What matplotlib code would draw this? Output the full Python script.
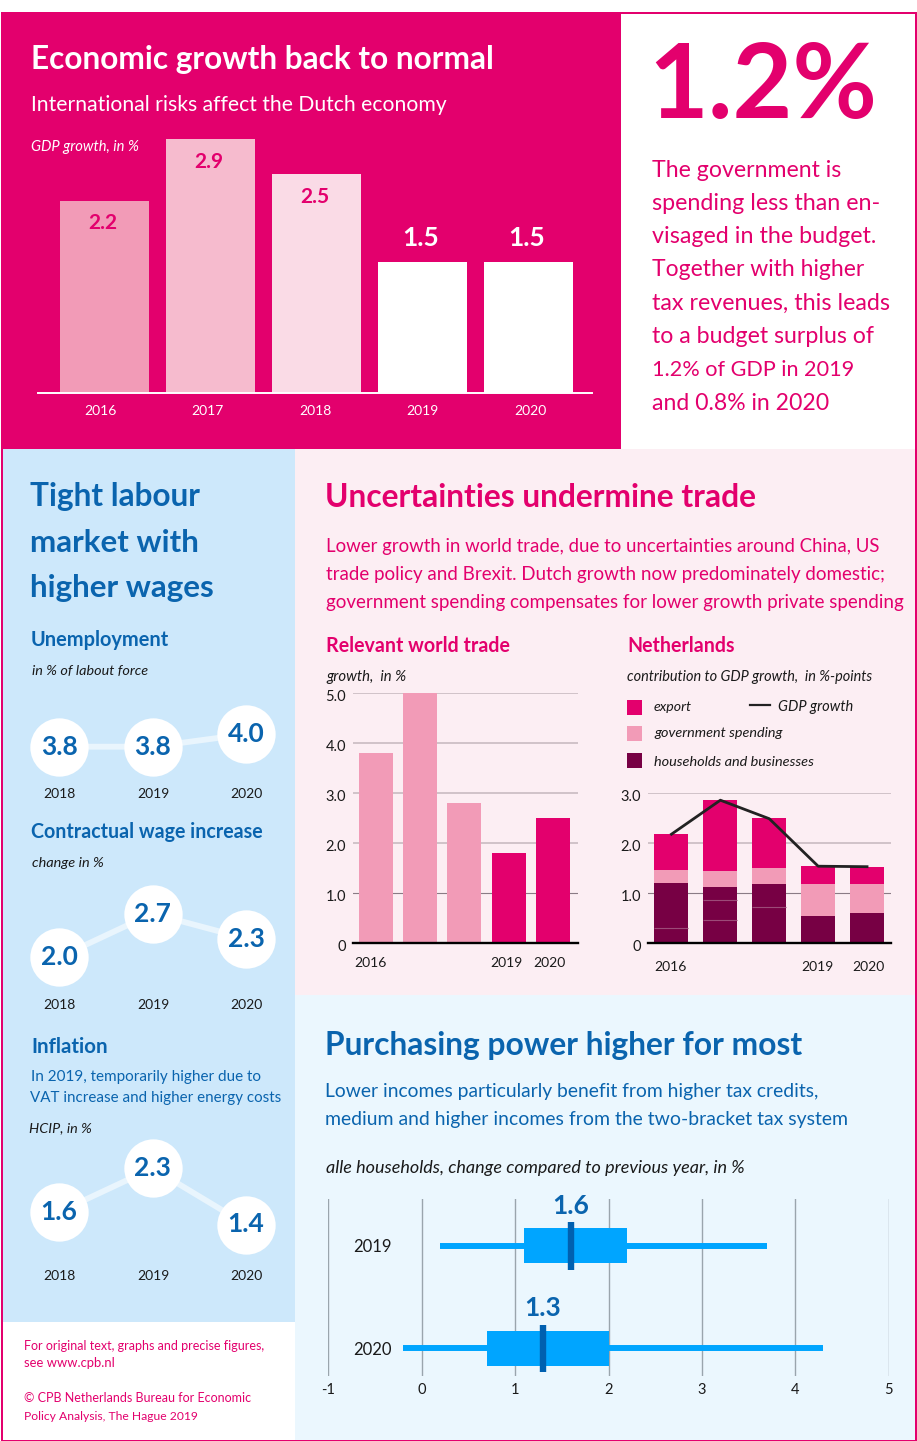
#!/usr/bin/env python3

import matplotlib

matplotlib.use("Agg")

import matplotlib.pyplot as plt
from matplotlib.patches import Rectangle
from matplotlib.transforms import ScaledTranslation


WIDTH = 917
HEIGHT = 1441

MAGENTA = "#E3006D"
PINK_1 = "#F29BB7"
PINK_2 = "#F6BBCE"
PINK_3 = "#FADBE6"
WINE = "#770044"
WINE_LINE = "#9C4A78"
PALE_PINK = "#FCEEF3"
LIGHT_BLUE = "#CDE8FB"
PALE_BLUE = "#EBF7FE"
BLUE = "#0A64AE"
BRIGHT_BLUE = "#00A5FF"
DARK_BLUE = "#0060B0"
LINK_LINE = "#E9F5FD"
GRID = "#C4B6BD"
GRID_DARK = "#8A7B85"
INK = "#1A1A1A"

# GDP growth, top left
GDP_YEARS = ["2016", "2017", "2018", "2019", "2020"]
GDP_VALUES = [2.2, 2.9, 2.5, 1.5, 1.5]

# Relevant world trade
TRADE_VALUES = [3.8, 5.0, 2.8, 1.8, 2.5]
TRADE_TICKS = [0, 1, 2, 3, 4, 5]
TRADE_TICK_LABELS = ["0", "1.0", "2.0", "3.0", "4.0", "5.0"]

# Netherlands, contribution to GDP growth
NL_HOUSEHOLDS = [1.19, 1.11, 1.18, 0.54, 0.60]
NL_GOVERNMENT = [0.26, 0.32, 0.31, 0.63, 0.57]
NL_EXPORT = [0.73, 1.42, 1.00, 0.36, 0.34]
NL_GROWTH = [2.17, 2.85, 2.48, 1.53, 1.52]
NL_SPLIT_BARS = [0, 1, 1, 2]
NL_SPLIT_VALUES = [0.29, 0.85, 0.45, 0.71]
NL_TICKS = [0, 1, 2, 3]
NL_TICK_LABELS = ["0", "1.0", "2.0", "3.0"]

# Left column dot lines
DOT_YEARS = ["2018", "2019", "2020"]
UNEMPLOYMENT = [3.8, 3.8, 4.0]
WAGES = [2.0, 2.7, 2.3]
INFLATION = [1.6, 2.3, 1.4]

# Purchasing power
POWER_YEARS = ["2019", "2020"]
POWER_LOW = [0.2, -0.2]
POWER_Q1 = [1.1, 0.7]
POWER_MEDIAN = [1.6, 1.3]
POWER_Q3 = [2.2, 2.0]
POWER_HIGH = [3.7, 4.3]
POWER_TICKS = [-1, 0, 1, 2, 3, 4, 5]


plt.rcParams["font.family"] = ["Lato", "DejaVu Sans"]
plt.rcParams["text.color"] = INK
plt.rcParams["xtick.labelcolor"] = INK
plt.rcParams["ytick.labelcolor"] = INK

figure = plt.figure(figsize=(WIDTH / 100, HEIGHT / 100), dpi=100)
figure.patch.set_facecolor("white")

page = figure.add_axes([0, 0, 1, 1])
page.set_xlim(0, WIDTH)
page.set_ylim(HEIGHT, 0)
page.axis("off")


def pixel_axes(left, top, right, bottom):
    """
    Transparent axes placed with reference-image pixel coordinates.
    """
    axis = figure.add_axes(
        [
            left / WIDTH,
            1 - bottom / HEIGHT,
            (right - left) / WIDTH,
            (bottom - top) / HEIGHT,
        ]
    )
    axis.patch.set_alpha(0)
    for spine in axis.spines.values():
        spine.set_visible(False)
    return axis


def panel(left, top, right, bottom, colour):
    page.add_patch(
        Rectangle(
            (left, top),
            right - left,
            bottom - top,
            facecolor=colour,
            edgecolor="none",
        )
    )


def put(x, y, text, width=None, size=12, colour=INK, **kwargs):
    """
    Write text on the page at a baseline, optionally sized to a pixel width.
    """
    kwargs.setdefault("va", "baseline")
    item = page.text(x, y, text, fontsize=size, color=colour, **kwargs)
    if width is not None:
        measured = item.get_window_extent(figure.canvas.get_renderer()).width
        item.set_fontsize(size * width / measured)
    return item


def dot_line(values, anchor_px, top, bottom):
    """
    Line of circles with the value inside; anchor_px is where values[0] sits.
    """
    scale = 62.5
    axis = pixel_axes(30, top, 275, bottom)
    axis.set_xlim(-0.31, 2.31)
    axis.set_ylim(
        values[0] - (bottom - anchor_px) / scale,
        values[0] + (anchor_px - top) / scale,
    )
    axis.set_xticks([])
    axis.set_yticks([])
    positions = range(len(values))
    axis.plot(
        positions,
        values,
        color=LINK_LINE,
        linewidth=4.2,
        marker="o",
        markersize=42,
        markerfacecolor="white",
        markeredgewidth=0,
        clip_on=False,
    )
    for position, value in zip(positions, values):
        axis.text(
            position,
            value,
            f"{value:.1f}",
            color=BLUE,
            fontsize=19,
            fontweight="bold",
            ha="center",
            va="center",
        )


def style_value_axis(axis):
    """
    Shared look of the two charts in the trade panel.
    """
    axis.tick_params(axis="both", length=0)
    axis.tick_params(axis="y", pad=5)
    axis.grid(axis="y", color=GRID, linewidth=1.1)
    axis.set_axisbelow(True)

    # The 1.0 line is thinner and darker than the others.
    axis.get_ygridlines()[1].set(color=GRID_DARK, linewidth=0.8)

    axis.spines["bottom"].set_visible(True)
    axis.spines["bottom"].set_linewidth(1.7)
    axis.spines["bottom"].set_color("black")
    axis.spines["bottom"].set_zorder(5)

    # Old-style figures sit a little under their grid line.
    shift = ScaledTranslation(0, -2 / 72, figure.dpi_scale_trans)
    for label in axis.get_yticklabels():
        label.set_transform(label.get_transform() + shift)


# Page panels and the magenta frame
panel(1, 12, 917, 1441, MAGENTA)
panel(621, 14, 915, 449, "white")
panel(3, 449, 295, 1322, LIGHT_BLUE)
panel(3, 1322, 295, 1439.5, "white")
panel(295, 449, 915, 995, PALE_PINK)
panel(295, 995, 915, 1439.5, PALE_BLUE)

# Top left panel
put(31, 69, "Economic growth back to normal", width=464, size=22,
    colour="white", fontweight="bold")
put(31, 111, "International risks affect the Dutch economy", width=415, size=16,
    colour="white")
put(31, 151, "GDP growth, in %", width=108, size=10, colour="white",
    style="italic")

gdp_axis = pixel_axes(38, 130.7, 592, 392.7)
gdp_axis.set_xlim(-0.627, 4.6)
gdp_axis.set_ylim(0, 3)
gdp_axis.bar(
    range(len(GDP_VALUES)),
    GDP_VALUES,
    width=0.84,
    color=[PINK_1, PINK_2, PINK_3, "white", "white"],
)
gdp_axis.set_yticks([])
gdp_axis.set_xticks([-0.04, 0.97, 1.99, 3.0, 4.02])
gdp_axis.set_xticklabels(GDP_YEARS, color="white", fontsize=10)
gdp_axis.tick_params(axis="x", length=0, pad=9, labelcolor="white")
gdp_axis.spines["bottom"].set_visible(True)
gdp_axis.spines["bottom"].set_color("white")
gdp_axis.spines["bottom"].set_linewidth(1.4)

for position, value in enumerate(GDP_VALUES):
    inside = value > 2
    gdp_axis.annotate(
        f"{value:.1f}",
        (position, value),
        xytext=(-1, -16 if inside else 17),
        textcoords="offset points",
        color=MAGENTA if inside else "white",
        fontsize=15 if inside else 19,
        fontweight="bold",
        ha="center",
        va="center",
    )

# Top right panel
put(648, 118, "1.2%", width=229, size=70, colour=MAGENTA, fontweight="bold")

surplus_lines = [
    ("The government is", 177, 189),
    ("spending less than en-", 210, 228),
    ("visaged in the budget.", 243, 224),
    ("Together with higher", 276, 212),
    ("tax revenues, this leads", 310, 237),
    ("to a budget surplus of", 343, 222),
    ("1.2% of GDP in 2019", 376, 202),
    ("and 0.8% in 2020", 410, 177),
]
for line, baseline, line_width in surplus_lines:
    put(652, baseline, line, width=line_width, size=17, colour=MAGENTA)

# Left column
for line, baseline, line_width in [
    ("Tight labour", 506, 171),
    ("market with", 552, 169),
    ("higher wages", 597, 184),
]:
    put(30, baseline, line, width=line_width, size=23, colour=BLUE,
        fontweight="bold")

put(31, 646, "Unemployment", width=139, size=15, colour=BLUE, fontweight="bold")
put(32, 675, "in % of labout force", width=116, size=10, style="italic")
dot_line(UNEMPLOYMENT, 746.7, 700, 790)

put(31, 838, "Contractual wage increase", width=232, size=15, colour=BLUE,
    fontweight="bold")
put(32, 867, "change in %", width=72, size=10, style="italic")
dot_line(WAGES, 957.3, 875, 995)

put(31, 1053, "Inflation", width=77, size=15, colour=BLUE, fontweight="bold")
put(31, 1081, "In 2019, temporarily higher due to", width=229, size=11,
    colour=BLUE)
put(30, 1102, "VAT increase and higher energy costs", width=250, size=11,
    colour=BLUE)
put(29, 1132, "HCIP, in %", width=63, size=10, style="italic")
dot_line(INFLATION, 1212, 1130, 1260)

for baseline in [798, 1009, 1280]:
    for x, year in zip([59, 153, 246], DOT_YEARS):
        put(x, baseline, year, size=10, ha="center")

# Footer
for line, baseline, line_width in [
    ("For original text, graphs and precise figures,", 1350, 241),
    ("see www.cpb.nl", 1367, 91),
    ("© CPB Netherlands Bureau for Economic", 1402, 228),
    ("Policy Analysis, The Hague 2019", 1420, 175),
]:
    put(24, baseline, line, width=line_width, size=9.5, colour=MAGENTA)

# Trade panel
put(325, 507, "Uncertainties undermine trade", width=433, size=22,
    colour=MAGENTA, fontweight="bold")
for line, baseline, line_width in [
    ("Lower growth in world trade, due to uncertainties around China, US",
     552, 555),
    ("trade policy and Brexit. Dutch growth now predominately domestic;",
     580, 560),
    ("government spending compensates for lower growth private spending",
     608, 580),
]:
    put(326, baseline, line, width=line_width, size=14, colour=MAGENTA)

put(326, 652, "Relevant world trade", width=185, size=14, colour=MAGENTA,
    fontweight="bold")
put(326, 681, "growth,  in %", width=80, size=10, style="italic")

trade_axis = pixel_axes(353, 693, 578, 943)
trade_axis.set_xlim(-0.507, 4.56)
trade_axis.set_ylim(0, 5)
trade_axis.bar(
    range(len(TRADE_VALUES)),
    TRADE_VALUES,
    width=0.766,
    color=[PINK_1, PINK_1, PINK_1, MAGENTA, MAGENTA],
    zorder=3,
)
trade_axis.set_yticks(TRADE_TICKS)
trade_axis.set_yticklabels(TRADE_TICK_LABELS, fontsize=10.5)
trade_axis.set_xticks([-0.12, 2.95, 3.92])
trade_axis.set_xticklabels(["2016", "2019", "2020"], fontsize=10)
style_value_axis(trade_axis)
trade_axis.tick_params(axis="x", pad=10)

put(627, 652, "Netherlands", width=108, size=14, colour=MAGENTA,
    fontweight="bold")
put(627, 681, "contribution to GDP growth,  in %-points", width=246, size=10,
    style="italic")

nl_axis = pixel_axes(648, 792.7, 891, 942.7)
nl_axis.set_xlim(-0.48, 4.49)
nl_axis.set_ylim(0, 3)
bottoms = [0.0] * len(NL_HOUSEHOLDS)
for series, colour in [
    (NL_HOUSEHOLDS, WINE),
    (NL_GOVERNMENT, PINK_1),
    (NL_EXPORT, MAGENTA),
]:
    nl_axis.bar(
        range(len(series)),
        series,
        width=0.695,
        bottom=bottoms,
        color=colour,
        zorder=3,
    )
    bottoms = [base + part for base, part in zip(bottoms, series)]
nl_axis.hlines(
    NL_SPLIT_VALUES,
    [bar - 0.3475 for bar in NL_SPLIT_BARS],
    [bar + 0.3475 for bar in NL_SPLIT_BARS],
    color=WINE_LINE,
    linewidth=0.8,
    zorder=3.5,
)
nl_axis.plot(
    range(len(NL_GROWTH)),
    NL_GROWTH,
    color="#222222",
    linewidth=2,
    zorder=4,
)
nl_axis.set_yticks(NL_TICKS)
nl_axis.set_yticklabels(NL_TICK_LABELS, fontsize=10.5)
nl_axis.set_xticks([-0.03, 2.99, 4.03])
nl_axis.set_xticklabels(["2016", "2019", "2020"], fontsize=10)
style_value_axis(nl_axis)
nl_axis.tick_params(axis="x", pad=13)

# Netherlands legend
for top, colour in [(700, MAGENTA), (726, PINK_1), (753, WINE)]:
    panel(626.5, top, 641.5, top + 15, colour)
page.plot([750, 770], [705, 705], color="#222222", linewidth=1.6)
put(654, 711, "export", width=38, size=10, style="italic")
put(654, 737, "government spending", width=129, size=10, style="italic")
put(654, 766, "households and businesses", width=160, size=10, style="italic")
put(778, 711, "GDP growth", width=75, size=10, style="italic")

# Purchasing power panel
put(325, 1055, "Purchasing power higher for most", width=478, size=22,
    colour=BLUE, fontweight="bold")
put(325, 1097, "Lower incomes particularly benefit from higher tax credits,",
    width=496, size=14, colour=BLUE)
put(325, 1125, "medium and higher incomes from the two-bracket tax system",
    width=525, size=14, colour=BLUE)
put(326, 1173, "alle households, change compared to previous year, in %",
    width=416, size=12, style="italic")

power_axis = pixel_axes(328.2, 1199, 888.8, 1375.7)
power_axis.set_xlim(-1, 5)
power_axis.set_ylim(1.268, -0.459)
rows = range(len(POWER_YEARS))
power_axis.hlines(rows, POWER_LOW, POWER_HIGH, color=BRIGHT_BLUE,
                  linewidth=4.3, zorder=3)
power_axis.barh(
    rows,
    [high - low for low, high in zip(POWER_Q1, POWER_Q3)],
    left=POWER_Q1,
    height=0.342,
    color=BRIGHT_BLUE,
    zorder=3,
)
power_axis.vlines(
    POWER_MEDIAN,
    [row - 0.232 for row in rows],
    [row + 0.232 for row in rows],
    color=DARK_BLUE,
    linewidth=4.6,
    zorder=4,
)
for row, median in zip(rows, POWER_MEDIAN):
    power_axis.annotate(
        f"{median:.1f}",
        (median, row - 0.232),
        xytext=(0, 12),
        textcoords="offset points",
        color=BLUE,
        fontsize=19,
        fontweight="bold",
        ha="center",
        va="center",
    )
power_axis.set_xticks(POWER_TICKS)
power_axis.set_xticklabels([str(tick) for tick in POWER_TICKS], fontsize=10.5)
power_axis.set_yticks(list(rows))
power_axis.set_yticklabels(POWER_YEARS, fontsize=12)
power_axis.tick_params(axis="both", length=0)
power_axis.tick_params(axis="x", pad=5)
power_axis.tick_params(axis="y", pad=-46)
power_axis.grid(axis="x", color="#9AA5AD", linewidth=1)
power_axis.set_axisbelow(True)

figure.savefig("out.png", dpi=100)
